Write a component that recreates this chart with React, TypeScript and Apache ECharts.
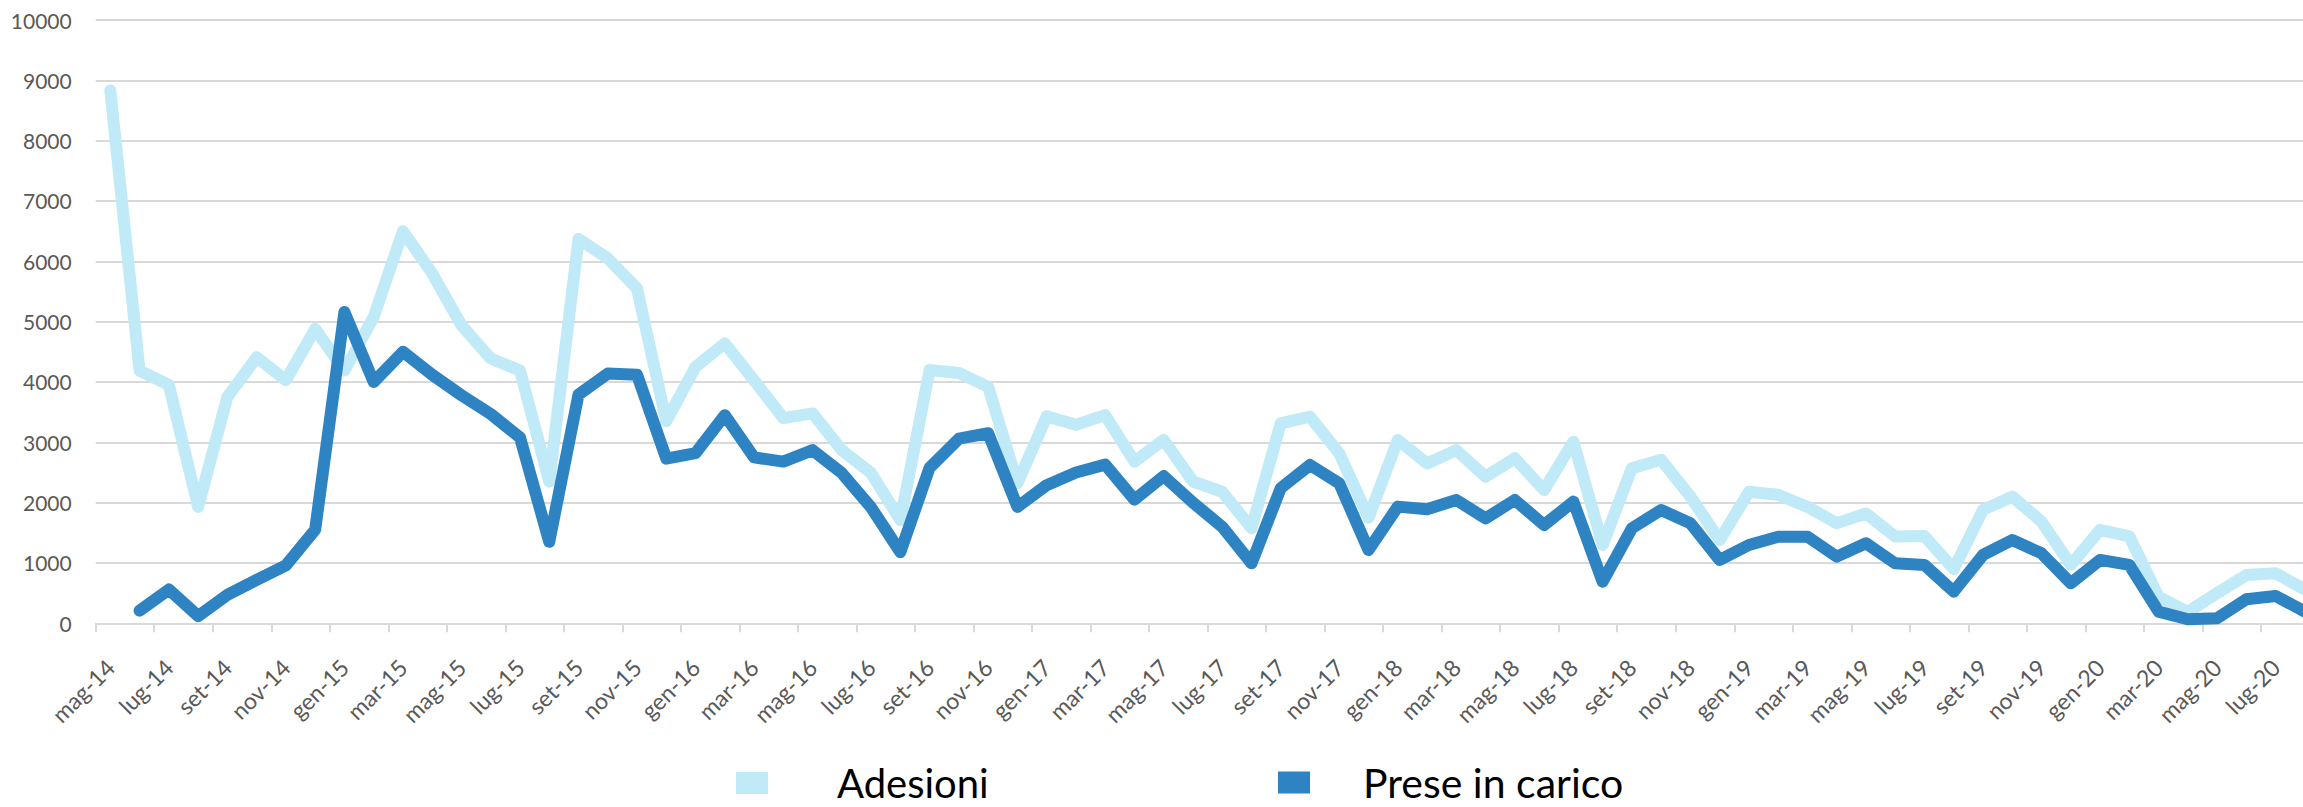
import React, { useEffect, useRef } from "react";
import * as echarts from "echarts";

const categories = [
  "mag-14", "giu-14", "lug-14", "ago-14", "set-14", "ott-14", "nov-14", "dic-14",
  "gen-15", "feb-15", "mar-15", "apr-15", "mag-15", "giu-15", "lug-15", "ago-15", "set-15", "ott-15", "nov-15", "dic-15",
  "gen-16", "feb-16", "mar-16", "apr-16", "mag-16", "giu-16", "lug-16", "ago-16", "set-16", "ott-16", "nov-16", "dic-16",
  "gen-17", "feb-17", "mar-17", "apr-17", "mag-17", "giu-17", "lug-17", "ago-17", "set-17", "ott-17", "nov-17", "dic-17",
  "gen-18", "feb-18", "mar-18", "apr-18", "mag-18", "giu-18", "lug-18", "ago-18", "set-18", "ott-18", "nov-18", "dic-18",
  "gen-19", "feb-19", "mar-19", "apr-19", "mag-19", "giu-19", "lug-19", "ago-19", "set-19", "ott-19", "nov-19", "dic-19",
  "gen-20", "feb-20", "mar-20", "apr-20", "mag-20", "giu-20", "lug-20", "ago-20",
];

const adesioni = [
  8830, 4190, 3950, 1930, 3750, 4410, 4030, 4880,
  4190, 5080, 6500, 5800, 4940, 4390, 4190, 2350, 6370, 6050, 5550, 3350,
  4250, 4640, 4030, 3400, 3480, 2870, 2490, 1710, 4200, 4150, 3920, 2320,
  3430, 3290, 3450, 2680, 3040, 2350, 2180, 1575, 3315, 3425, 2820, 1750,
  3040, 2650, 2870, 2430, 2735, 2210, 3010, 1300, 2570, 2710, 2100, 1380,
  2180, 2130, 1930, 1660, 1820, 1440, 1445, 900, 1880, 2100, 1685, 970,
  1550, 1440, 440, 190, 500, 800, 830, 560,
];

const preseInCarico = [
  null, 210, 560, 120, 470, 720, 960, 1550,
  5160, 4000, 4500, 4120, 3780, 3470, 3080, 1350, 3790, 4140, 4120, 2730,
  2820, 3450, 2750, 2680, 2870, 2490, 1920, 1180, 2580, 3060, 3150, 1930,
  2290, 2500, 2630, 2050, 2440, 2000, 1600, 994, 2240, 2624, 2320, 1215,
  1934, 1890, 2044, 1740, 2044, 1630, 2017, 690, 1575, 1878, 1657, 1050,
  1298, 1436, 1436, 1105, 1326, 994, 967, 525, 1133, 1381, 1160, 663,
  1050, 967, 193, 66, 83, 398, 453, 193,
];

const seriesNames = ["Adesioni", "Prese in carico"];
const seriesColors = ["#C0EAF8", "#2E83C3"];

const axisFont = "Lato, 'Open Sans', sans-serif";
const legendFont = "Lato, 'Open Sans', sans-serif";

export default function App() {
  const ref = useRef<HTMLDivElement>(null);

  useEffect(() => {
    if (!ref.current) return;
    const chart = echarts.init(ref.current, null, { renderer: "svg" });
    const legendBase = {
      orient: "horizontal",
      padding: 0,
      itemWidth: 32,
      itemHeight: 22,
      icon: "rect",
      selectedMode: false,
    };
    chart.setOption({
      animation: false,
      backgroundColor: "#ffffff",
      grid: {
        left: 95.7,
        top: 20,
        bottom: 183.7,
        right: -16.5,
        containLabel: false,
        outerBoundsMode: "none",
      },
      xAxis: {
        type: "category",
        data: categories,
        boundaryGap: true,
        axisLine: { show: true, lineStyle: { color: "#d9d9d9", width: 2 } },
        axisTick: {
          show: true,
          interval: 1,
          alignWithLabel: false,
          length: 9,
          lineStyle: { color: "#d9d9d9", width: 2 },
        },
        axisLabel: {
          interval: 1,
          rotate: 45,
          margin: 40,
          color: "#595959",
          fontFamily: axisFont,
          fontSize: 23,
        },
        splitLine: { show: false },
      },
      yAxis: {
        type: "value",
        min: 0,
        max: 10000,
        interval: 1000,
        axisLine: { show: false },
        axisTick: { show: false },
        splitLine: { show: true, lineStyle: { color: "#d9d9d9", width: 2 } },
        axisLabel: {
          margin: 24,
          color: "#595959",
          fontFamily: axisFont,
          fontSize: 21,
          formatter: (v: number) => String(v),
        },
      },
      legend: [
        {
          ...legendBase,
          data: [seriesNames[0]],
          left: 736,
          top: 763,
          textStyle: {
            fontSize: 40,
            lineHeight: 38,
            color: "#000000",
            fontFamily: legendFont,
            padding: [0, 0, 0, 64],
          },
        },
        {
          ...legendBase,
          data: [seriesNames[1]],
          left: 1278,
          top: 762,
          textStyle: {
            fontSize: 41,
            lineHeight: 38,
            color: "#000000",
            fontFamily: legendFont,
            padding: [0, 0, 0, 48],
          },
        },
      ],
      series: [
        {
          name: seriesNames[0],
          type: "line",
          data: adesioni,
          symbol: "none",
          showSymbol: false,
          lineStyle: { width: 12, color: seriesColors[0], cap: "round", join: "round" },
          itemStyle: { color: seriesColors[0] },
          z: 2,
        },
        {
          name: seriesNames[1],
          type: "line",
          data: preseInCarico,
          symbol: "none",
          showSymbol: false,
          lineStyle: { width: 12, color: seriesColors[1], cap: "round", join: "round" },
          itemStyle: { color: seriesColors[1] },
          z: 3,
        },
      ],
    });
    return () => chart.dispose();
  }, []);

  return (
    <div
      ref={ref}
      style={{ position: "fixed", left: 0, top: 0, width: 2303, height: 807, background: "#fff" }}
    />
  );
}
